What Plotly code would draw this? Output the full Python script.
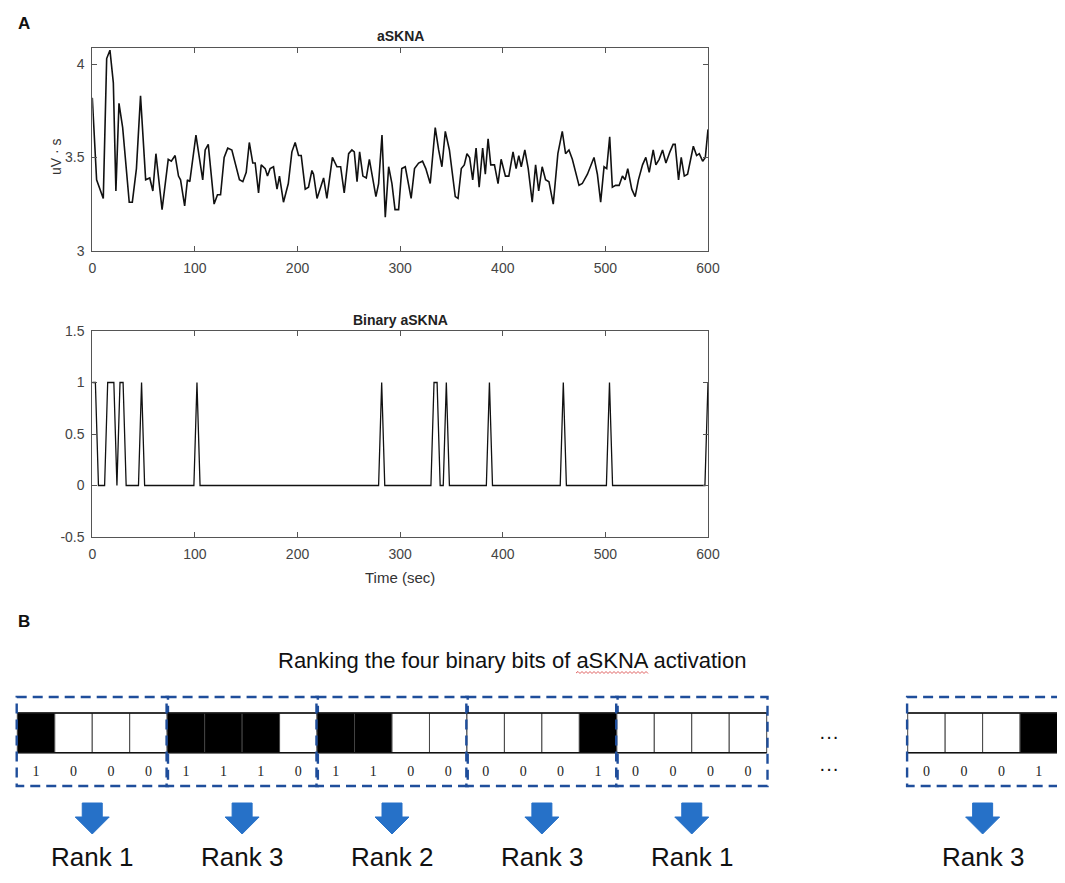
import plotly.graph_objects as go

# ---- panel A, top: aSKNA trace (uV*s), vertices
askna_time = [0, 4.2, 10.7, 14, 17.2, 20.5, 23, 26, 29.6, 36, 39, 43, 47, 52, 56, 59, 62, 68,
              74, 77, 80.7, 84, 86, 90, 92.7, 95, 101, 107.6, 110, 113, 118.7, 122, 125, 128.5,
              132, 136, 143.4, 146.7, 150, 153, 156.4, 158.7, 162, 164.6, 168.5, 170.7, 173.3,
              176.6, 180, 182.4, 186.3, 191, 194.5, 197.7, 201, 203.6, 207.5, 210.7, 214, 215.6,
              219, 222.8, 225.4, 228.6, 234, 238.4, 242, 245.5, 249.8, 253, 255.3, 258, 260.5,
              263.7, 267, 270, 276.4, 279, 282.3, 285.5, 288.8, 292, 295, 298.5, 301.6, 305,
              310.7, 314, 318, 321.8, 325, 329.3, 334.2, 337.5, 340.7, 344, 348, 353.7, 356.4,
              359.6, 362.5, 365.1, 367.7, 370.7, 374, 377, 380.4, 383, 385.7, 388.3, 391.9,
              395.4, 398.4, 402.6, 405.9, 410, 413, 415.6, 418, 421.5, 424.8, 428.7, 432, 435,
              438.4, 441.7, 445, 449.2, 453.7, 458, 461.2, 464.5, 467.8, 474.3, 477.5, 482.5,
              488.9, 492.2, 495.4, 498.7, 501.3, 504.2, 506.8, 510, 513.4, 516.6, 519.2, 521.8,
              525.7, 529, 532.2, 536.2, 539.4, 542.7, 546.6, 549.2, 552.4, 555.7, 559, 562.9,
              566, 568, 571.3, 573.9, 576.9, 580.1, 585.7, 588.9, 591.5, 594.8, 597.4, 600]
askna_uvs = [3.82, 3.38, 3.28, 4.03, 4.075, 3.90, 3.32, 3.79, 3.66, 3.26, 3.26, 3.44, 3.83, 3.38,
             3.39, 3.32, 3.52, 3.22, 3.49, 3.48, 3.51, 3.40, 3.38, 3.24, 3.38, 3.37, 3.62, 3.38,
             3.54, 3.57, 3.25, 3.30, 3.30, 3.50, 3.55, 3.54, 3.38, 3.37, 3.42, 3.58, 3.47, 3.47,
             3.31, 3.46, 3.44, 3.40, 3.44, 3.45, 3.33, 3.40, 3.26, 3.36, 3.53, 3.58, 3.51, 3.51,
             3.33, 3.34, 3.43, 3.41, 3.28, 3.34, 3.39, 3.28, 3.50, 3.45, 3.45, 3.31, 3.52, 3.54,
             3.53, 3.37, 3.53, 3.40, 3.39, 3.49, 3.29, 3.36, 3.62, 3.18, 3.45, 3.36, 3.22, 3.22,
             3.44, 3.45, 3.28, 3.44, 3.47, 3.48, 3.44, 3.36, 3.66, 3.54, 3.45, 3.64, 3.54, 3.29,
             3.28, 3.44, 3.46, 3.52, 3.50, 3.38, 3.55, 3.34, 3.55, 3.41, 3.60, 3.46, 3.46, 3.36,
             3.49, 3.40, 3.40, 3.53, 3.44, 3.51, 3.45, 3.54, 3.44, 3.26, 3.46, 3.32, 3.45, 3.38,
             3.37, 3.25, 3.52, 3.64, 3.52, 3.54, 3.49, 3.35, 3.36, 3.41, 3.50, 3.41, 3.26, 3.45,
             3.44, 3.61, 3.34, 3.35, 3.35, 3.40, 3.38, 3.44, 3.33, 3.29, 3.38, 3.46, 3.50, 3.42,
             3.54, 3.46, 3.49, 3.54, 3.47, 3.53, 3.57, 3.57, 3.38, 3.50, 3.40, 3.41, 3.56, 3.51,
             3.52, 3.48, 3.50, 3.65]

# ---- panel A, bottom: binary aSKNA, 3 s samples; times where the bit is 1
bin_step = 3
bin_on_times = [0, 3, 15, 18, 21, 27, 30, 48, 102, 282, 333, 336, 345, 387, 459, 504, 600]
bin_time = list(range(0, 601, bin_step))
bin_vals = [1 if t in bin_on_times else 0 for t in bin_time]

# ---- panel B: four-bit groups and their ranks
bit_groups = [[1, 0, 0, 0], [1, 1, 1, 0], [1, 1, 0, 0], [0, 0, 0, 1], [0, 0, 0, 0], [0, 0, 0, 1]]
rank_labels = ["Rank 1", "Rank 3", "Rank 2", "Rank 3", "Rank 1", "Rank 3"]

# ---- geometry: every position below is in pixels of the 1065x883 window;
# the page body keeps an 8px margin, so the figure is 16px smaller and shifted
PAGE_W, PAGE_H = 1065, 883
PAD = 8
W, H = PAGE_W - 2 * PAD, PAGE_H - 2 * PAD
SANS = "Arial, Liberation Sans, sans-serif"
SERIF = "Times New Roman, Liberation Serif, serif"
AX_GREY = "#555555"
DASH_BLUE = "#1f4e9b"
ARROW_BLUE = "#2671c8"

def fx(px):
    return (px - PAD) / W

def fy(py):
    return 1 - (py - PAD) / H

cell_w = 37.47
cell_top, cell_bot = 713, 752.7
group_x0 = [17.3, 17.3 + 4 * cell_w, 17.3 + 8 * cell_w, 17.3 + 12 * cell_w, 17.3 + 16 * cell_w, 907.7]

axis_style = dict(showline=True, linecolor=AX_GREY, linewidth=1, mirror="ticks",
                  ticks="inside", ticklen=5, tickcolor=AX_GREY, showgrid=False,
                  zeroline=False, automargin=False, ticklabelstandoff=4,
                  tickfont=dict(family=SANS, size=14, color="#444444"))

fig = go.Figure()

fig.add_trace(go.Scatter(x=askna_time, y=askna_uvs, mode="lines",
                         line=dict(color="#111111", width=1.6),
                         xaxis="x", yaxis="y", hoverinfo="skip", showlegend=False))
fig.add_trace(go.Scatter(x=bin_time, y=bin_vals, mode="lines",
                         line=dict(color="#111111", width=1.3),
                         xaxis="x2", yaxis="y2", hoverinfo="skip", showlegend=False))

# bit digits under each cell
dig_x, dig_t = [], []
for g, bits in enumerate(bit_groups):
    for i, b in enumerate(bits):
        dig_x.append(group_x0[g] + (i + 0.5) * cell_w)
        dig_t.append(str(b))
fig.add_trace(go.Scatter(x=dig_x, y=[772] * len(dig_x), mode="text", text=dig_t,
                         textfont=dict(family=SERIF, size=14, color="#222222"),
                         xaxis="x3", yaxis="y3", hoverinfo="skip", showlegend=False))

shapes = []
annotations = []

for g, bits in enumerate(bit_groups):
    gx = group_x0[g]
    for i, b in enumerate(bits):
        shapes.append(dict(type="rect", xref="x3", yref="y3",
                           x0=gx + i * cell_w, x1=gx + (i + 1) * cell_w,
                           y0=cell_top, y1=cell_bot,
                           fillcolor="black" if b else "white",
                           line=dict(color="#444444", width=1)))
    # strip outline top / bottom
    for yy in (cell_top, cell_bot):
        shapes.append(dict(type="line", xref="x3", yref="y3", x0=gx, x1=gx + 4 * cell_w,
                           y0=yy, y1=yy, line=dict(color="#111111", width=1.5)))
    # dashed group frame
    shapes.append(dict(type="rect", xref="x3", yref="y3", x0=gx - 0.6, x1=gx + 4 * cell_w + 0.8,
                       y0=697, y1=786, line=dict(color=DASH_BLUE, width=2.4, dash="10px,6px")))
    # block arrow
    c = gx + 2 * cell_w
    path = ("M {a},803 L {b},803 L {b},817 L {d},817 L {c},834 L {e},817 L {a},817 Z"
            .format(a=c - 10, b=c + 10, c=c, d=c + 17, e=c - 17))
    shapes.append(dict(type="path", xref="x3", yref="y3", path=path,
                       fillcolor=ARROW_BLUE, line=dict(color=ARROW_BLUE, width=1)))
    annotations.append(dict(x=c, y=874, yanchor="bottom", text=rank_labels[g],
                            font=dict(family=SANS, size=26, color="#111111")))

# red spell-check squiggle under "aSKNA"
sq = "M 576,673"
xx, up = 576, True
while xx < 648:
    xx += 2
    sq += " L {},{}".format(xx, 671.5 if up else 673.5)
    up = not up
shapes.append(dict(type="path", xref="x3", yref="y3", path=sq,
                   line=dict(color="#e06060", width=1)))

# ellipsis marks between the last two groups
for yy in (736, 768):
    annotations.append(dict(x=829, y=yy, text="···",
                            font=dict(family=SANS, size=20, color="#111111")))

annotations += [
    dict(x=24, y=23, text="<b>A</b>", font=dict(family=SANS, size=17, color="#111111")),
    dict(x=24, y=621, text="<b>B</b>", font=dict(family=SANS, size=17, color="#111111")),
    dict(x=400, y=36, text="<b>aSKNA</b>", font=dict(family=SANS, size=14, color="#222222")),
    dict(x=400, y=320, text="<b>Binary aSKNA</b>", font=dict(family=SANS, size=14, color="#222222")),
    dict(x=400, y=577, text="Time (sec)", font=dict(family=SANS, size=15, color="#333333")),
    dict(x=56, y=157, text="uV · s", textangle=-90, font=dict(family=SANS, size=14, color="#333333")),
    dict(x=512, y=660, text="Ranking the four binary bits of aSKNA activation",
         font=dict(family=SANS, size=22, color="#111111")),
]
for a in annotations:
    a.setdefault("xref", "x3")
    a.setdefault("yref", "y3")
    a.setdefault("showarrow", False)

fig.update_layout(
    width=W, height=H,
    margin=dict(l=0, r=0, t=0, b=0, pad=0, autoexpand=False),
    paper_bgcolor="white", plot_bgcolor="rgba(0,0,0,0)",
    showlegend=False,
    xaxis=dict(domain=[fx(92.3), fx(708)], range=[0, 600], dtick=100, anchor="y", **axis_style),
    yaxis=dict(domain=[fy(250.7), fy(48.3)], range=[3, 4.085], tickvals=[3, 3.5, 4],
               ticktext=["3", "3.5", "4"], anchor="x", **axis_style),
    xaxis2=dict(domain=[fx(92.3), fx(708)], range=[0, 600], dtick=100, anchor="y2", **axis_style),
    yaxis2=dict(domain=[fy(537), fy(331)], range=[-0.5, 1.5], tickvals=[-0.5, 0, 0.5, 1, 1.5],
                ticktext=["-0.5", "0", "0.5", "1", "1.5"], anchor="x2", **axis_style),
    # whole-page helper axes in window pixels for the diagram and free text
    xaxis3=dict(domain=[0, 1], range=[PAD, PAD + W], visible=False, anchor="y3", fixedrange=True),
    yaxis3=dict(domain=[0, 1], range=[PAD + H, PAD], visible=False, anchor="x3", fixedrange=True),
    shapes=shapes,
    annotations=annotations,
)

fig.write_html("out.html")
